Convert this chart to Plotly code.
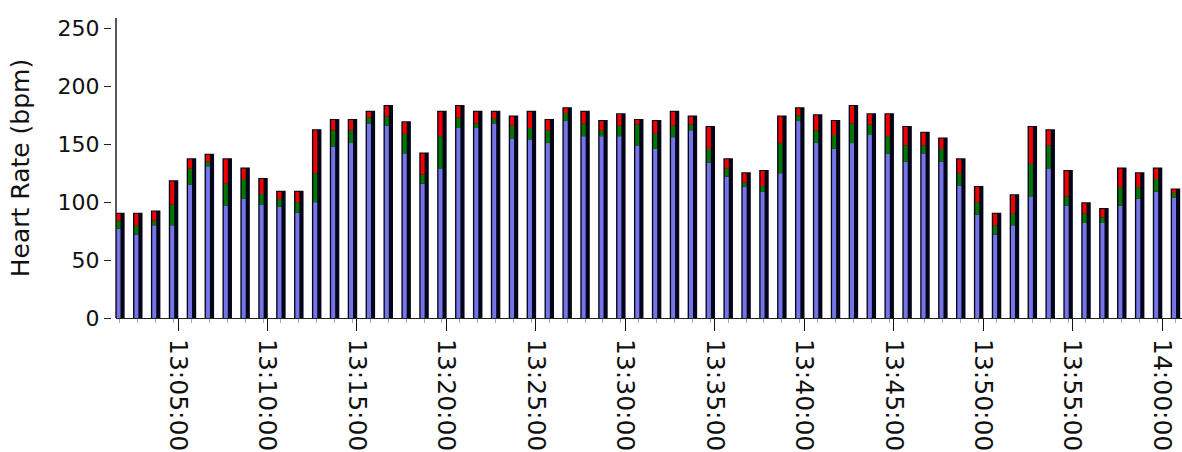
import numpy as np
import pandas as pd
import plotly.graph_objects as go

# Per-minute heart rate summary (bpm): minimum, average and maximum
start_time = "2013-05-11 13:01:45"
n_minutes = 60
times = pd.date_range(start_time, periods=n_minutes, freq="60s")

hr_min = [77, 72, 80, 80, 115, 131, 97, 103, 98, 96,
          91, 100, 148, 151, 168, 166, 142, 116, 129, 164,
          164, 168, 155, 154, 151, 170, 157, 157, 157, 149,
          146, 156, 162, 134, 122, 113, 109, 125, 170, 151,
          146, 151, 158, 142, 135, 142, 135, 114, 89, 72,
          80, 105, 129, 97, 82, 82, 97, 103, 109, 104]
hr_avg = [84, 80, 84, 98, 129, 135, 116, 120, 107, 103,
          100, 125, 162, 162, 173, 174, 159, 124, 157, 173,
          168, 172, 166, 164, 162, 177, 168, 162, 166, 167,
          159, 166, 167, 146, 129, 117, 114, 151, 175, 162,
          158, 168, 167, 157, 149, 149, 146, 125, 100, 80,
          90, 133, 149, 105, 90, 87, 113, 113, 120, 108]
hr_max = [90, 90, 92, 118, 137, 141, 137, 129, 120, 109,
          109, 162, 171, 171, 178, 183, 169, 142, 178, 183,
          178, 178, 174, 178, 171, 181, 178, 170, 176, 171,
          170, 178, 174, 165, 137, 125, 127, 174, 181, 175,
          170, 183, 176, 176, 165, 160, 155, 137, 113, 90,
          106, 165, 162, 127, 99, 94, 129, 125, 129, 111]

y_ticks = [0, 50, 100, 150, 200, 250]

lo = np.array(hr_min, dtype=float)
mid = np.array(hr_avg, dtype=float)
hi = np.array(hr_max, dtype=float)

FRAME = "#05051a"
BLUE = "#7575e8"
GREEN = "#007800"
RED = "#f20000"

MS_PER_PX = 60000 / 17.89
frame_w = 7.5 * MS_PER_PX
stripe_w = 4.0 * MS_PER_PX
stripe_off = -stripe_w / 2 - 1.4 * MS_PER_PX

fig = go.Figure()

# dark body of each bar, full height up to the maximum
fig.add_trace(go.Bar(
    x=times, y=hi, base=0, width=frame_w,
    marker=dict(color=FRAME, line=dict(color=FRAME, width=2)),
    hoverinfo="skip", showlegend=False,
))

# coloured stripe: min (blue), min->avg (green), avg->max (red)
for base, top, color in ((np.zeros_like(lo), lo, BLUE), (lo, mid, GREEN), (mid, hi, RED)):
    fig.add_trace(go.Bar(
        x=times, y=top - base, base=base, width=stripe_w, offset=stripe_off,
        marker=dict(color=color, line=dict(width=0)),
        hoverinfo="skip", showlegend=False,
    ))

font_family = "DejaVu Sans"

fig.update_layout(
    width=1182, height=452,
    margin=dict(l=116, r=0, t=18, b=134),
    paper_bgcolor="white", plot_bgcolor="white",
    barmode="overlay",
    font=dict(family=font_family, color="#111111"),
    xaxis=dict(
        type="date",
        range=["2013-05-11 13:01:32", "2013-05-11 14:01:07"],
        tick0="2013-05-11 13:00:00", dtick=300000,
        tickformat="%H:%M:%S", tickangle=90,
        ticks="outside", ticklen=12, tickcolor="#111111", tickwidth=1,
        ticklabelstandoff=3,
        tickfont=dict(size=25, family=font_family, color="#111111"),
        showline=True, linecolor="#222222", linewidth=1,
        showgrid=False, zeroline=False,
        minor=dict(ticks="outside", ticklen=4, tickcolor="#aaaaaa",
                   tick0=start_time, dtick=60000, showgrid=False),
    ),
    yaxis=dict(
        range=[0, 259],
        tickvals=y_ticks, ticktext=[str(v) for v in y_ticks],
        anchor="free", position=0, shift=-5,
        ticks="outside", ticklen=7, tickcolor="#222222", tickwidth=1,
        tickfont=dict(size=22, family=font_family, color="#111111"),
        showline=False, showgrid=False, zeroline=False,
        title=dict(text="Heart Rate (bpm)", standoff=19,
                   font=dict(size=25, family=font_family, color="#111111")),
    ),
    shapes=[dict(type="line", xref="paper", yref="paper",
                 x0=0, x1=0, y0=0, y1=1,
                 line=dict(color="#222222", width=1.5))],
)

fig.write_html("out.html")
